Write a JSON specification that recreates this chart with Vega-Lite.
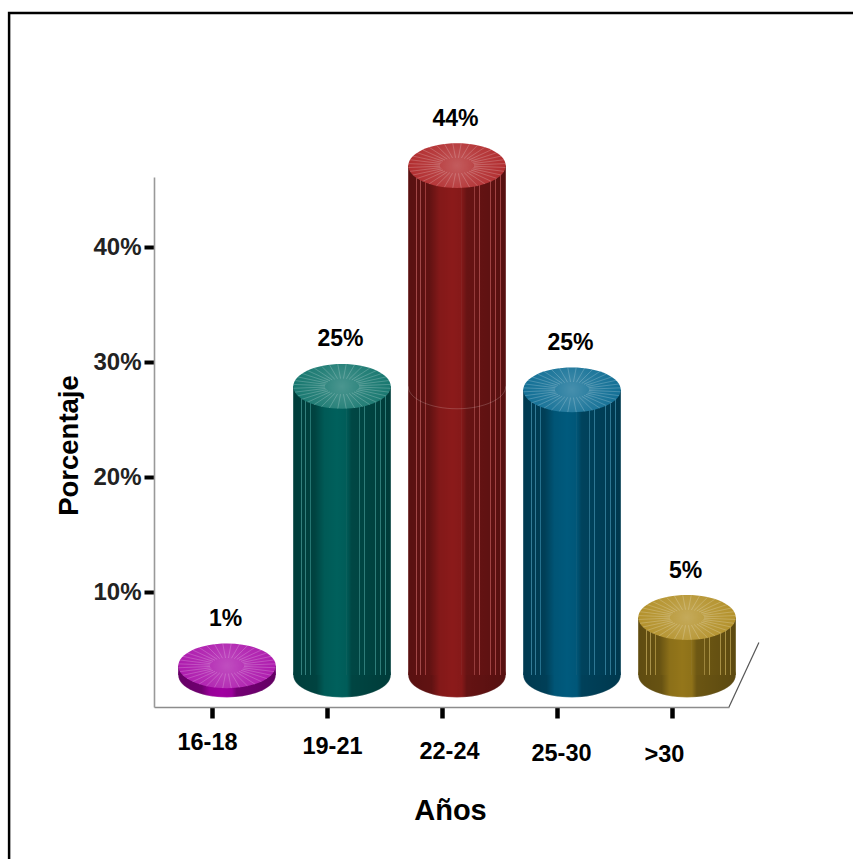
{
"$schema":"https://vega.github.io/schema/vega-lite/v6.json",
"width":575,"height":530,
"autosize":"none",
"padding":{"left":154,"top":177,"right":124,"bottom":152},
"background":"white",
"config":{"view":{"stroke":null},"font":"Liberation Sans"},
"datasets":{
"bars":[
{"edad":"16-18","valor":0.8,"etiqueta":"1%"},
{"edad":"19-21","valor":25.1,"etiqueta":"25%"},
{"edad":"22-24","valor":44.3,"etiqueta":"44%"},
{"edad":"25-30","valor":24.8,"etiqueta":"25%"},
{"edad":">30","valor":5.0,"etiqueta":"5%"}],
"seam":[{"edad":"22-24","valor":25.1}],
"suelo":[{"a":5,"b":0,"a2":5.26,"b2":5.6}],
"marco":[{"i":1,"a":6.1,"b":60.35},{"i":2,"a":-1.26,"b":60.35},{"i":3,"a":-1.26,"b":-13.4}]
},
"data":{"name":"bars"},
"resolve":{"scale":{"x":"independent","color":"independent"}},
"layer":[
{"mark":{"type":"point","filled":true,"opacity":1,"size":9506,"xOffset":15.5,"yOffset":-32,"stroke":"#ffffff","strokeOpacity":0.3,"strokeWidth":1,"shape":"M-1,0A1,.46 0 1,1 1,0A1,.46 0 1,1 -1,0Z"},
 "encoding":{
  "x":{"field":"edad","type":"nominal","sort":null,
   "scale":{"domain":["16-18","19-21","22-24","25-30",">30"],"paddingInner":0,"paddingOuter":0},
   "axis":{"title":"Años","labels":false,"domainColor":"#8c8c8c","domainWidth":1.6,"tickColor":"#000","tickWidth":4.5,"tickSize":11,"grid":false,
    "titleFont":"Liberation Sans","titleFontWeight":"bold","titleFontSize":29,"titleColor":"#000","titleX":296,"titleY":89}},
  "y":{"datum":0,"type":"quantitative",
   "scale":{"domain":[0,46.087],"nice":false,"zero":true},
   "axis":{"title":"Porcentaje","values":[10,20,30,40],"labelExpr":"datum.value+'%'","labelFont":"Liberation Sans","labelFontWeight":"bold","labelFontSize":24,"labelColor":"#222","labelPadding":3,"domainColor":"#999","domainWidth":1.6,"tickColor":"#000","tickWidth":4,"tickSize":10,"grid":false,
    "titleFont":"Liberation Sans","titleFontWeight":"bold","titleFontSize":27.5,"titleColor":"#000","titleX":-71,"titleY":268}},
  "color":{"field":"edad","type":"nominal","legend":null,"sort":null,"scale":{"domain":["16-18","19-21","22-24","25-30",">30"],"range":["#a000a0","#00605c","#8b1a1a","#005a7d","#94761a"]}}
 }},
{"mark":{"type":"text","font":"Liberation Sans","fontWeight":"bold","fontSize":23.5,"color":"#000","baseline":"middle",
  "dx":{"expr":"{'16-18':-4,'19-21':6,'22-24':8,'25-30':5,'>30':-7}[datum.edad]"},
  "dy":{"expr":"{'16-18':36,'19-21':40,'22-24':45,'25-30':47,'>30':48}[datum.edad]"}},
 "encoding":{"x":{"field":"edad","type":"nominal","sort":null,"axis":null,"scale":{"domain":["16-18","19-21","22-24","25-30",">30"],"paddingInner":0,"paddingOuter":0}},"y":{"datum":0,"type":"quantitative"},
  "text":{"field":"edad","type":"nominal"}}},
{"mark":{"type":"point","filled":true,"opacity":1,"size":9506,"xOffset":15.5,"yOffset":-32,"shape":"M-1,0A1,.46 0 1,1 1,0A1,.46 0 1,1 -1,0Z","stroke":null,
  "color":{"x1":0,"y1":0,"x2":1,"y2":0,"gradient":"linear","stops":[{"offset":0,"color":"rgba(0,0,0,.36)"},{"offset":0.24,"color":"rgba(0,0,0,.3)"},{"offset":0.32,"color":"rgba(0,0,0,.06)"},{"offset":0.45,"color":"rgba(0,0,0,0)"},{"offset":0.55,"color":"rgba(0,0,0,.04)"},{"offset":0.6,"color":"rgba(0,0,0,.28)"},{"offset":1,"color":"rgba(0,0,0,.38)"}]}},
 "encoding":{"x":{"field":"edad","type":"nominal","sort":null,"axis":null,"scale":{"domain":["16-18","19-21","22-24","25-30",">30"],"paddingInner":0,"paddingOuter":0}},"y":{"datum":0,"type":"quantitative"}}},
{"mark":{"type":"bar","width":97.5,"xOffset":15.5,"yOffset":-32},
 "encoding":{"x":{"field":"edad","type":"nominal","sort":null,"axis":null,"scale":{"domain":["16-18","19-21","22-24","25-30",">30"],"paddingInner":0,"paddingOuter":0}},"y":{"field":"valor","type":"quantitative"},
  "color":{"field":"edad","type":"nominal","legend":null,"sort":null,"scale":{"domain":["16-18","19-21","22-24","25-30",">30"],"range":["#a000a0","#00605c","#8b1a1a","#005a7d","#94761a"]}}}},
{"mark":{"type":"bar","width":97.5,"xOffset":15.5,"yOffset":-32,
  "color":{"x1":0,"y1":0,"x2":1,"y2":0,"gradient":"linear","stops":[
  {"offset":0,"color":"rgba(0,0,0,.36)"},{"offset":0.078,"color":"rgba(0,0,0,.34)"},{"offset":0.08,"color":"rgba(255,255,255,.2)"},{"offset":0.086,"color":"rgba(255,255,255,.2)"},{"offset":0.088,"color":"rgba(0,0,0,.34)"},
  {"offset":0.118,"color":"rgba(0,0,0,.34)"},{"offset":0.12,"color":"rgba(255,255,255,.2)"},{"offset":0.126,"color":"rgba(255,255,255,.2)"},{"offset":0.128,"color":"rgba(0,0,0,.34)"},
  {"offset":0.17,"color":"rgba(0,0,0,.33)"},{"offset":0.172,"color":"rgba(255,255,255,.14)"},{"offset":0.177,"color":"rgba(255,255,255,.14)"},{"offset":0.179,"color":"rgba(0,0,0,.32)"},
  {"offset":0.22,"color":"rgba(0,0,0,.3)"},{"offset":0.32,"color":"rgba(0,0,0,.06)"},{"offset":0.45,"color":"rgba(0,0,0,0)"},{"offset":0.545,"color":"rgba(0,0,0,.04)"},
  {"offset":0.548,"color":"rgba(255,255,255,.22)"},{"offset":0.553,"color":"rgba(255,255,255,.22)"},{"offset":0.556,"color":"rgba(0,0,0,.08)"},{"offset":0.6,"color":"rgba(0,0,0,.26)"},
  {"offset":0.678,"color":"rgba(0,0,0,.28)"},{"offset":0.68,"color":"rgba(255,255,255,.18)"},{"offset":0.685,"color":"rgba(255,255,255,.18)"},{"offset":0.687,"color":"rgba(0,0,0,.28)"},
  {"offset":0.725,"color":"rgba(0,0,0,.29)"},{"offset":0.727,"color":"rgba(255,255,255,.18)"},{"offset":0.732,"color":"rgba(255,255,255,.18)"},{"offset":0.734,"color":"rgba(0,0,0,.29)"},
  {"offset":0.84,"color":"rgba(0,0,0,.32)"},{"offset":0.842,"color":"rgba(255,255,255,.18)"},{"offset":0.847,"color":"rgba(255,255,255,.18)"},{"offset":0.849,"color":"rgba(0,0,0,.33)"},
  {"offset":0.89,"color":"rgba(0,0,0,.34)"},{"offset":0.892,"color":"rgba(255,255,255,.18)"},{"offset":0.897,"color":"rgba(255,255,255,.18)"},{"offset":0.899,"color":"rgba(0,0,0,.35)"},
  {"offset":0.94,"color":"rgba(0,0,0,.36)"},{"offset":0.942,"color":"rgba(255,255,255,.18)"},{"offset":0.947,"color":"rgba(255,255,255,.18)"},{"offset":0.949,"color":"rgba(0,0,0,.37)"},
  {"offset":1,"color":"rgba(0,0,0,.38)"}]}},
 "encoding":{"x":{"field":"edad","type":"nominal","sort":null,"axis":null,"scale":{"domain":["16-18","19-21","22-24","25-30",">30"],"paddingInner":0,"paddingOuter":0}},"y":{"field":"valor","type":"quantitative"}}},
{"data":{"name":"seam"},
 "mark":{"type":"point","filled":false,"opacity":1,"size":9506,"xOffset":15.5,"yOffset":-32,"stroke":"#ffffff","strokeOpacity":0.18,"strokeWidth":1,"shape":"M-1,0A1,.46 0 0,0 1,0"},
 "encoding":{"x":{"field":"edad","type":"nominal","sort":null,"axis":null,"scale":{"domain":["16-18","19-21","22-24","25-30",">30"],"paddingInner":0,"paddingOuter":0}},"y":{"field":"valor","type":"quantitative"}}},
{"mark":{"type":"point","filled":true,"opacity":1,"size":9506,"xOffset":15.5,"yOffset":-32,"stroke":null,"shape":"M-1,0A1,.46 0 1,1 1,0A1,.46 0 1,1 -1,0Z"},
 "encoding":{"x":{"field":"edad","type":"nominal","sort":null,"axis":null,"scale":{"domain":["16-18","19-21","22-24","25-30",">30"],"paddingInner":0,"paddingOuter":0}},"y":{"field":"valor","type":"quantitative"},
  "color":{"field":"edad","type":"nominal","legend":null,"sort":null,"scale":{"domain":["16-18","19-21","22-24","25-30",">30"],"range":["#ae1cae","#187870","#b22e30","#137096","#b4922c"]}}}},
{"mark":{"type":"point","filled":false,"opacity":1,"size":9506,"xOffset":15.5,"yOffset":-32,"stroke":"#ffffff","strokeOpacity":0.2,"strokeWidth":1,
  "shape":"M-.996,-.04L-.349,-.014M.349,.014L.996,.04M-.966,-.119L-.338,-.042M.338,.042L.966,.119M-.906,-.194L-.317,-.068M.317,.068L.906,.194M-.819,-.264L-.287,-.092M.287,.092L.819,.264M-.707,-.325L-.247,-.114M.247,.114L.707,.325M-.574,-.377L-.201,-.132M.201,.132L.574,.377M-.423,-.417L-.148,-.146M.148,.146L.423,.417M-.259,-.444L-.091,-.155M.091,.155L.259,.444M-.087,-.458L-.03,-.16M.03,.16L.087,.458M-.996,.04L-.349,.014M.349,-.014L.996,-.04M-.966,.119L-.338,.042M.338,-.042L.966,-.119M-.906,.194L-.317,.068M.317,-.068L.906,-.194M-.819,.264L-.287,.092M.287,-.092L.819,-.264M-.707,.325L-.247,.114M.247,-.114L.707,-.325M-.574,.377L-.201,.132M.201,-.132L.574,-.377M-.423,.417L-.148,.146M.148,-.146L.423,-.417M-.259,.444L-.091,.155M.091,-.155L.259,-.444M-.087,.458L-.03,.16M.03,-.16L.087,-.458"},
 "encoding":{"x":{"field":"edad","type":"nominal","sort":null,"axis":null,"scale":{"domain":["16-18","19-21","22-24","25-30",">30"],"paddingInner":0,"paddingOuter":0}},"y":{"field":"valor","type":"quantitative"}}},
{"mark":{"type":"point","filled":true,"opacity":1,"size":9506,"xOffset":15.5,"yOffset":-32,"stroke":null,"shape":"M-1,0A1,.46 0 1,1 1,0A1,.46 0 1,1 -1,0Z",
  "color":{"gradient":"radial","x1":0.5,"y1":0.5,"x2":0.5,"y2":0.5,"r1":0,"r2":0.5,"stops":[{"offset":0,"color":"rgba(255,255,255,.22)"},{"offset":0.5,"color":"rgba(255,255,255,.07)"},{"offset":1,"color":"rgba(255,255,255,0)"}]}},
 "encoding":{"x":{"field":"edad","type":"nominal","sort":null,"axis":null,"scale":{"domain":["16-18","19-21","22-24","25-30",">30"],"paddingInner":0,"paddingOuter":0}},"y":{"field":"valor","type":"quantitative"}}},
{"mark":{"type":"text","font":"Liberation Sans","fontWeight":"bold","fontSize":23,"color":"#000","dx":14,"dy":-79,"baseline":"middle"},
 "encoding":{"x":{"field":"edad","type":"nominal","sort":null,"axis":null,"scale":{"domain":["16-18","19-21","22-24","25-30",">30"],"paddingInner":0,"paddingOuter":0}},"y":{"field":"valor","type":"quantitative"},
  "text":{"field":"etiqueta","type":"nominal"}}},
{"data":{"name":"suelo"},
 "mark":{"type":"rule","color":"#555","strokeWidth":1.2},
 "encoding":{"x":{"field":"a","type":"quantitative","axis":null,"scale":{"domain":[0,5],"nice":false,"zero":false}},"x2":{"field":"a2"},"y":{"field":"b","type":"quantitative"},"y2":{"field":"b2"}}},
{"data":{"name":"marco"},
 "mark":{"type":"line","color":"#000","strokeWidth":2.5,"clip":false},
 "encoding":{"x":{"field":"a","type":"quantitative","axis":null,"scale":{"domain":[0,5],"nice":false,"zero":false}},"y":{"field":"b","type":"quantitative"},"order":{"field":"i"}}}
]
}
